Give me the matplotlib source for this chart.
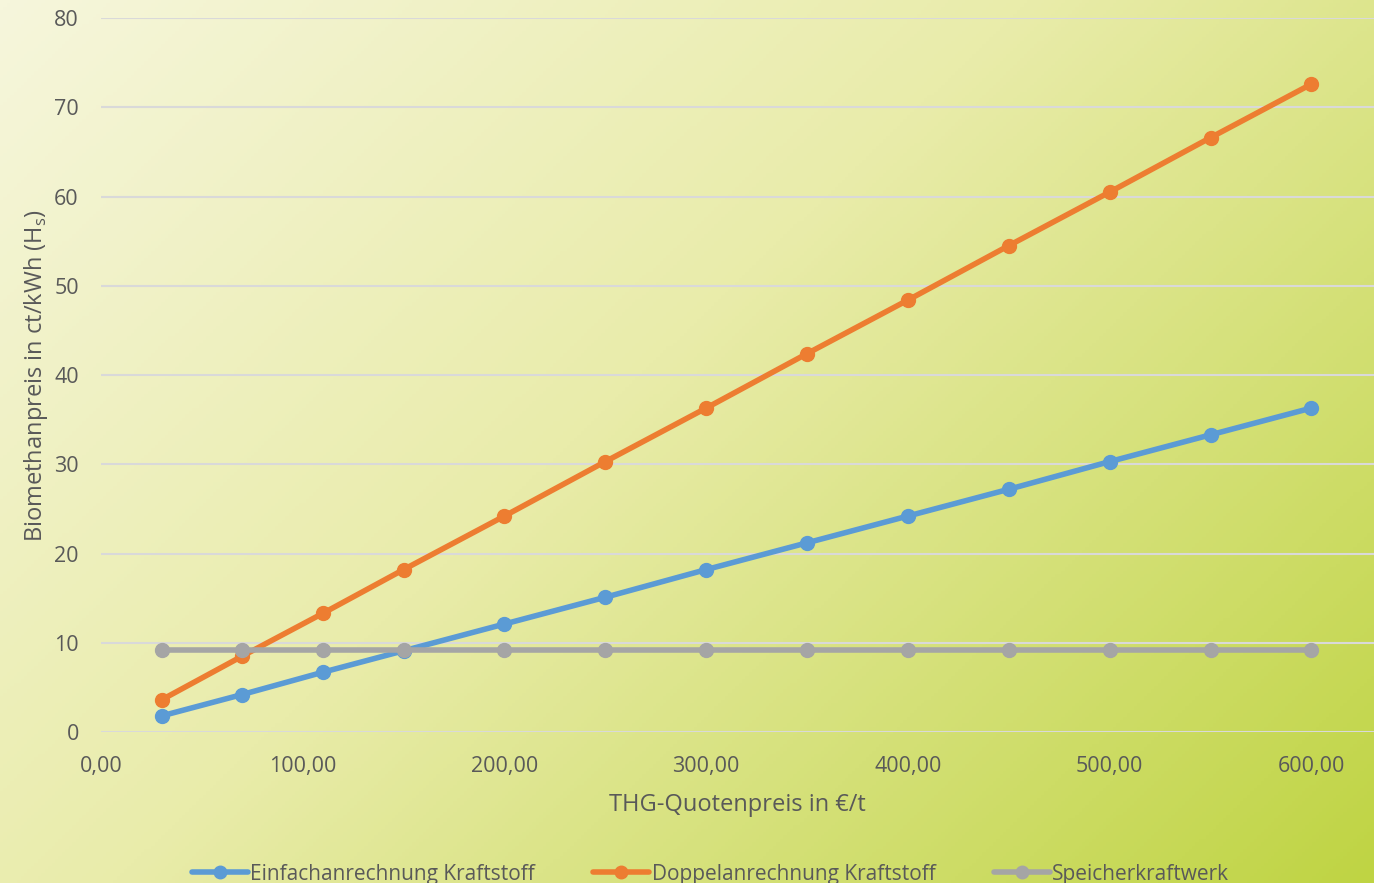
import numpy as np
import matplotlib
matplotlib.use('Agg')
import matplotlib.pyplot as plt
from matplotlib.colors import LinearSegmentedColormap
from matplotlib.ticker import FuncFormatter

# THG-Quotenpreis in EUR/t
quote_price = [30, 70, 110, 150, 200, 250, 300, 350, 400, 450, 500, 550, 600]
# Biomethanpreis in ct/kWh
einfach = [1.8, 4.2, 6.7, 9.1, 12.1, 15.1, 18.2, 21.2, 24.2, 27.2, 30.3, 33.3, 36.3]
doppel = [3.6, 8.5, 13.3, 18.2, 24.2, 30.3, 36.3, 42.4, 48.4, 54.5, 60.5, 66.6, 72.6]
speicher = [9.2, 9.2, 9.2, 9.2, 9.2, 9.2, 9.2, 9.2, 9.2, 9.2, 9.2, 9.2, 9.2]
labels = ['Einfachanrechnung Kraftstoff', 'Doppelanrechnung Kraftstoff', 'Speicherkraftwerk']

plt.rcParams['font.family'] = ['Open Sans', 'DejaVu Sans']
text_col = '#595959'

fig = plt.figure(figsize=(13.74, 8.83), dpi=100)

# diagonal gradient background
bg = fig.add_axes([0, 0, 1, 1], zorder=-10)
bg.axis('off')
xx, yy = np.meshgrid(np.linspace(0, 1, 400), np.linspace(0, 1, 260))
t = (xx * 0.6 + yy * 0.4)
cmap = LinearSegmentedColormap.from_list('bg', [(0, '#f6f6dc'), (0.45, '#e9ecaa'), (1, '#bfd443')])
bg.imshow(t, cmap=cmap, aspect='auto', extent=[0, 1, 0, 1], origin='upper')

ax = fig.add_axes([0.0735, 0.171, 0.9265, 0.8086])
ax.patch.set_alpha(0)

colors = ['#5b9bd5', '#ed7d31', '#a5a5a5']
for ys, c, lab in zip([einfach, doppel, speicher], colors, labels):
    ax.plot(quote_price, ys, color=c, lw=4, marker='o', ms=10, label=lab, solid_capstyle='round')

ax.set_xlim(0, 631)
ax.set_ylim(0, 80)
ax.set_xticks(range(0, 601, 100))
ax.set_yticks(range(0, 81, 10))
ax.xaxis.set_major_formatter(FuncFormatter(lambda v, p: f'{v:.2f}'.replace('.', ',')))
ax.grid(axis='y', color='#d9d9d9', lw=1.5)
ax.set_axisbelow(True)
for s in ax.spines.values():
    s.set_visible(False)
ax.tick_params(length=0, labelsize=15.5, colors=text_col)
ax.tick_params(axis='x', pad=17)
ax.tick_params(axis='y', pad=16)

ax.set_xlabel('THG-Quotenpreis in €/t', fontsize=17, color=text_col, labelpad=12)
ax.set_ylabel(r'Biomethanpreis in ct/kWh (H$_\mathregular{s}$)', fontsize=17, color=text_col, labelpad=3)

fig.legend(loc='center', bbox_to_anchor=(0.517, 0.01), ncol=3, frameon=False,
           fontsize=15, labelcolor=text_col, handlelength=2.7, handletextpad=0.1,
           columnspacing=2.8, markerscale=0.9)

fig.savefig('out.png', dpi=100)
